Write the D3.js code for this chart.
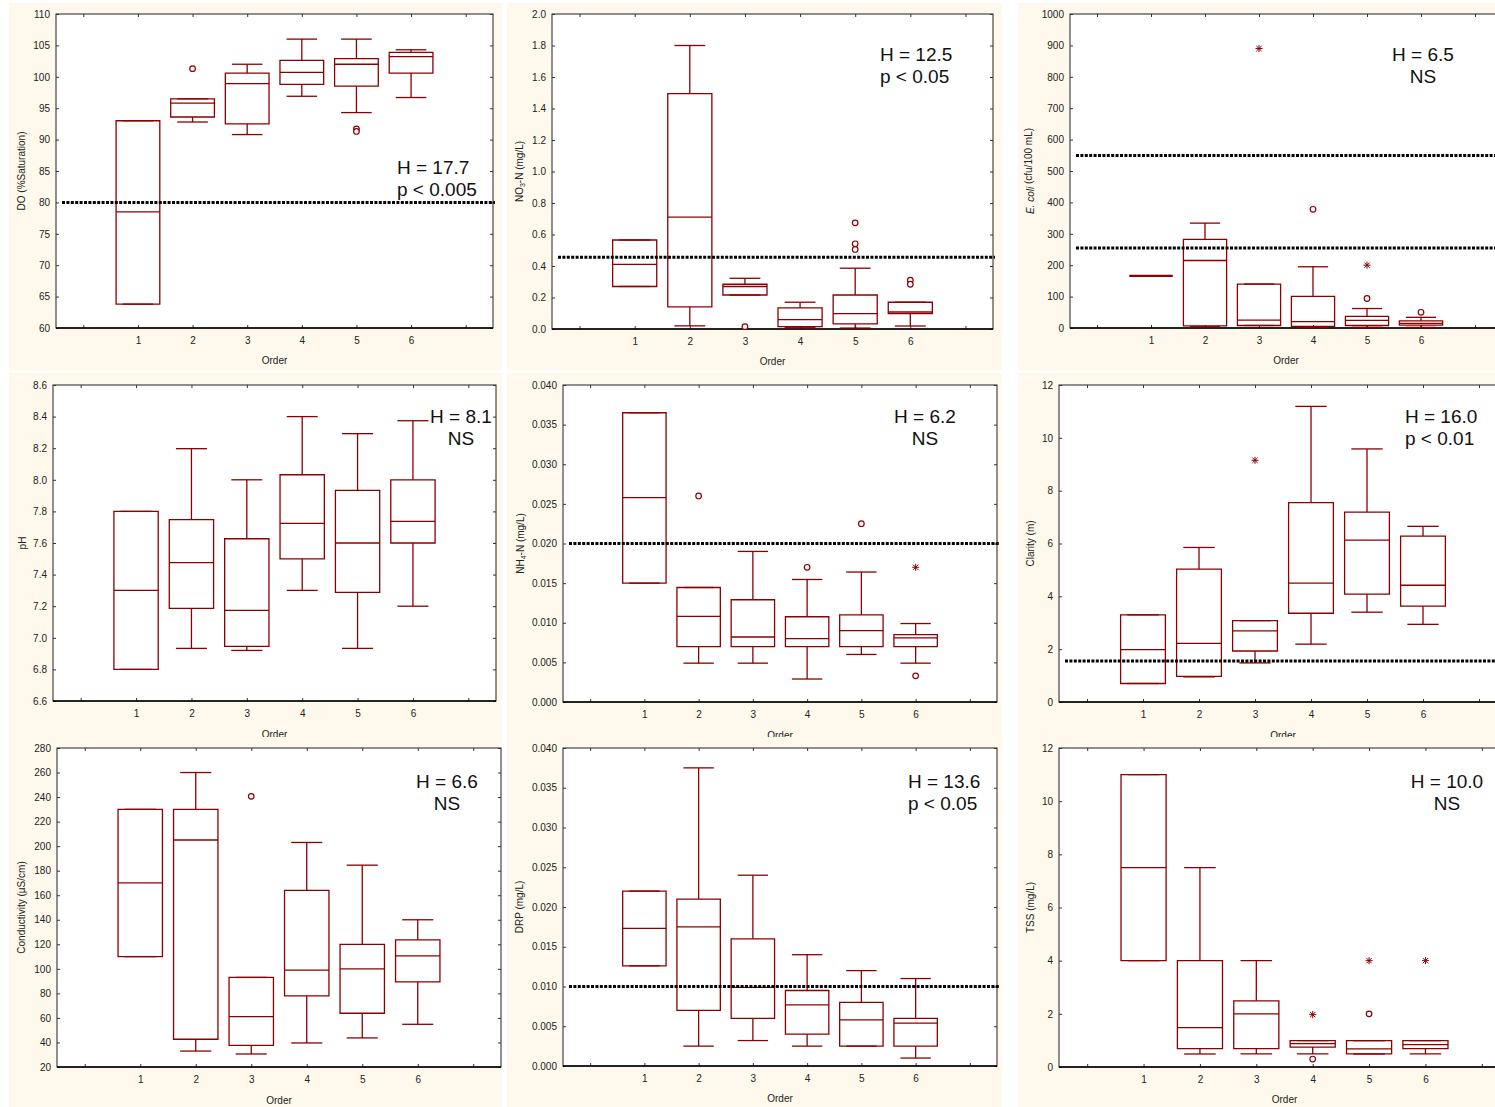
<!DOCTYPE html>
<html>
<head>
<meta charset="utf-8">
<script src="https://cdn.jsdelivr.net/npm/d3@7"></script>
<style>
  body { margin: 0; background: #fff; }
  svg { display: block; font-family: "Liberation Sans", Arial, sans-serif; }
</style>
</head>
<body>
<div id="chart"></div>
<script>
// stream order categories on every x axis
const orders = [1, 2, 3, 4, 5, 6]
const xTickPositions = [0, 1, 2, 3, 4, 5, 6, 7]

// each box: [whisker low, q1, median, q3, whisker high], one per order
// outliers (circles) and extremes (asterisks): [order, value]

const doBoxes = [[63.8, 63.8, 78.5, 93.0, 93.0], [92.8, 93.6, 95.8, 96.5, 96.5], [90.8, 92.5, 98.9, 100.6, 102.0],
  [96.9, 98.8, 100.7, 102.6, 106.0], [94.3, 98.5, 102.0, 102.9, 106.0], [96.7, 100.6, 103.2, 103.9, 104.3]]
const doOutliers = [[2, 101.3], [5, 91.7], [5, 91.3]]
const doExtremes = []
const doTicks = [60, 65, 70, 75, 80, 85, 90, 95, 100, 105, 110]
const doRef = [80]
const doStats = ["H = 17.7", "p < 0.005"]

const no3Boxes = [[0.27, 0.27, 0.41, 0.565, 0.565], [0.02, 0.14, 0.71, 1.495, 1.8], [0.216, 0.216, 0.27, 0.284, 0.322],
  [0.008, 0.015, 0.06, 0.134, 0.17], [0.006, 0.032, 0.098, 0.216, 0.386], [0.019, 0.098, 0.108, 0.17, 0.17]]
const no3Outliers = [[3, 0.015], [5, 0.674], [5, 0.541], [5, 0.505], [6, 0.31], [6, 0.284]]
const no3Extremes = []
const no3Ticks = [0, 0.2, 0.4, 0.6, 0.8, 1.0, 1.2, 1.4, 1.6, 1.8, 2.0]
const no3Ref = [0.456]
const no3Stats = ["H = 12.5", "p < 0.05"]

const ecoliBoxes = [[166, 166, 166, 166, 166], [4, 7, 215, 282, 334], [8, 8, 25, 140, 140],
  [2, 5, 20, 101, 195], [2, 8, 24, 37, 62], [2, 9, 15, 23, 34]]
const ecoliOutliers = [[4, 378], [5, 94], [6, 50]]
const ecoliExtremes = [[3, 890], [5, 200]]
const ecoliTicks = [0, 100, 200, 300, 400, 500, 600, 700, 800, 900, 1000]
const ecoliRef = [549, 255]
const ecoliStats = ["H = 6.5", "NS"]

const phBoxes = [[6.80, 6.80, 7.30, 7.80, 7.80], [6.933, 7.186, 7.476, 7.748, 8.197], [6.92, 6.946, 7.174, 7.627, 8.0],
  [7.30, 7.50, 7.724, 8.032, 8.40], [6.933, 7.288, 7.60, 7.933, 8.292], [7.20, 7.60, 7.737, 8.0, 8.374]]
const phOutliers = []
const phExtremes = []
const phTicks = [6.6, 6.8, 7.0, 7.2, 7.4, 7.6, 7.8, 8.0, 8.2, 8.4, 8.6]
const phRef = []
const phStats = ["H = 8.1", "NS"]

const nh4Boxes = [[0.015, 0.015, 0.0258, 0.0365, 0.0365], [0.0049, 0.007, 0.0108, 0.01445, 0.01445],
  [0.0049, 0.007, 0.0082, 0.0129, 0.019], [0.0029, 0.007, 0.0080, 0.01076, 0.01546],
  [0.006, 0.007, 0.009, 0.011, 0.0164], [0.0049, 0.007, 0.0081, 0.0085, 0.0099]]
const nh4Outliers = [[2, 0.026], [4, 0.017], [5, 0.0225], [6, 0.0033]]
const nh4Extremes = [[6, 0.017]]
const nh4Ticks = [0, 0.005, 0.010, 0.015, 0.020, 0.025, 0.030, 0.035, 0.040]
const nh4Ref = [0.020]
const nh4Stats = ["H = 6.2", "NS"]

const clarityBoxes = [[0.7, 0.7, 1.98, 3.3, 3.3], [0.95, 0.97, 2.22, 5.03, 5.85], [1.48, 1.93, 2.69, 3.08, 3.08],
  [2.19, 3.36, 4.5, 7.55, 11.19], [3.4, 4.08, 6.13, 7.19, 9.58], [2.94, 3.63, 4.42, 6.28, 6.65]]
const clarityOutliers = []
const clarityExtremes = [[3, 9.15]]
const clarityTicks = [0, 2, 4, 6, 8, 10, 12]
const clarityRef = [1.55]
const clarityStats = ["H = 16.0", "p < 0.01"]

const condBoxes = [[110, 110, 170, 230, 230], [33, 42.6, 205, 230, 260], [30.6, 37.7, 61, 93, 93],
  [39.6, 78, 99, 164, 203], [43.7, 63.8, 100, 120, 184.5], [54.8, 89.3, 110.6, 123.6, 140]]
const condOutliers = [[3, 240.6]]
const condExtremes = []
const condTicks = [20, 40, 60, 80, 100, 120, 140, 160, 180, 200, 220, 240, 260, 280]
const condRef = []
const condStats = ["H = 6.6", "NS"]

const drpBoxes = [[0.0126, 0.0126, 0.0173, 0.022, 0.022], [0.0025, 0.007, 0.0175, 0.021, 0.0375],
  [0.0032, 0.006, 0.0099, 0.016, 0.024], [0.0025, 0.004, 0.0077, 0.0095, 0.014],
  [0.0025, 0.0025, 0.0058, 0.008, 0.012], [0.001, 0.0025, 0.0054, 0.006, 0.011]]
const drpOutliers = []
const drpExtremes = []
const drpTicks = [0, 0.005, 0.010, 0.015, 0.020, 0.025, 0.030, 0.035, 0.040]
const drpRef = [0.010]
const drpStats = ["H = 13.6", "p < 0.05"]

const tssBoxes = [[4, 4, 7.5, 11, 11], [0.49, 0.69, 1.48, 4, 7.5], [0.49, 0.69, 2.0, 2.49, 4],
  [0.49, 0.75, 0.88, 0.99, 0.99], [0.49, 0.49, 0.68, 0.99, 0.99], [0.49, 0.69, 0.84, 0.99, 0.99]]
const tssOutliers = [[4, 0.3], [5, 2.0]]
const tssExtremes = [[4, 1.97], [5, 4], [6, 4]]
const tssTicks = [0, 2, 4, 6, 8, 10, 12]
const tssRef = []
const tssStats = ["H = 10.0", "NS"]

const W = 1495, H = 1107
const boxColor = "#8b0000"
const cream = "#fef9ec"

// layout: panel background, plot frame, label / stats placement
const cols = [[9, 502], [507, 1002], [1018, 1500]]
const rows = [[3, 370], [373, 737], [737, 1107]]

const panels = [
  { boxes: doBoxes, out: doOutliers, ext: doExtremes, ticks: doTicks, ref: doRef, stats: doStats, fmt: d3.format("d"),
    label: [["DO (%Saturation)"]], col: 0, row: 0, frame: [56, 493, 14, 328], yLabX: 21, orderY: 364, sx: 397, sy: 174, anchor: "start" },
  { boxes: no3Boxes, out: no3Outliers, ext: no3Extremes, ticks: no3Ticks, ref: no3Ref, stats: no3Stats, fmt: d3.format(".1f"),
    label: [["NO"], ["3", "sub"], ["-N (mg/L)"]], col: 1, row: 0, frame: [552, 993, 14, 329], yLabX: 519, orderY: 365, sx: 880, sy: 61, anchor: "start" },
  { boxes: ecoliBoxes, out: ecoliOutliers, ext: ecoliExtremes, ticks: ecoliTicks, ref: ecoliRef, stats: ecoliStats, fmt: d3.format("d"),
    label: [["E. coli", "it"], [" (cfu/100 mL)"]], col: 2, row: 0, frame: [1070, 1502, 14, 328], yLabX: 1030, orderY: 364, sx: 1423, sy: 61, anchor: "middle" },
  { boxes: phBoxes, out: phOutliers, ext: phExtremes, ticks: phTicks, ref: phRef, stats: phStats, fmt: d3.format(".1f"),
    label: [["pH"]], col: 0, row: 1, frame: [53, 496, 385, 701], yLabX: 22, orderY: 738, sx: 461, sy: 423, anchor: "middle" },
  { boxes: nh4Boxes, out: nh4Outliers, ext: nh4Extremes, ticks: nh4Ticks, ref: nh4Ref, stats: nh4Stats, fmt: d3.format(".3f"),
    label: [["NH"], ["4", "sub"], ["-N (mg/L)"]], col: 1, row: 1, frame: [563, 997, 385, 702], yLabX: 520, orderY: 739, sx: 925, sy: 423, anchor: "middle" },
  { boxes: clarityBoxes, out: clarityOutliers, ext: clarityExtremes, ticks: clarityTicks, ref: clarityRef, stats: clarityStats, fmt: d3.format("d"),
    label: [["Clarity (m)"]], col: 2, row: 1, frame: [1059, 1507, 385, 702], yLabX: 1030, orderY: 739, sx: 1405, sy: 423, anchor: "start" },
  { boxes: condBoxes, out: condOutliers, ext: condExtremes, ticks: condTicks, ref: condRef, stats: condStats, fmt: d3.format("d"),
    label: [["Conductivity (µS/cm)"]], col: 0, row: 2, frame: [57, 501, 748, 1067], yLabX: 21, orderY: 1104, sx: 447, sy: 788, anchor: "middle" },
  { boxes: drpBoxes, out: drpOutliers, ext: drpExtremes, ticks: drpTicks, ref: drpRef, stats: drpStats, fmt: d3.format(".3f"),
    label: [["DRP (mg/L)"]], col: 1, row: 2, frame: [563, 997, 748, 1066], yLabX: 519, orderY: 1102, sx: 908, sy: 788, anchor: "start" },
  { boxes: tssBoxes, out: tssOutliers, ext: tssExtremes, ticks: tssTicks, ref: tssRef, stats: tssStats, fmt: d3.format("d"),
    label: [["TSS (mg/L)"]], col: 2, row: 2, frame: [1059, 1510, 748, 1067], yLabX: 1030, orderY: 1103, sx: 1447, sy: 788, anchor: "middle" }
]

const svg = d3.select("#chart").append("svg")
  .attr("width", W)
  .attr("height", H)

const starPath = "M-3.5,0H3.5M0,-3.5V3.5M-2.6,-2.6L2.6,2.6M-2.6,2.6L2.6,-2.6"

panels.forEach(function(p) {
  const [l, r, t, b] = p.frame
  const g = svg.append("g")

  // cream panel background
  g.append("rect")
    .attr("x", cols[p.col][0]).attr("y", rows[p.row][0])
    .attr("width", cols[p.col][1] - cols[p.col][0])
    .attr("height", rows[p.row][1] - rows[p.row][0])
    .attr("fill", cream)

  g.append("rect")
    .attr("x", l).attr("y", t).attr("width", r - l).attr("height", b - t)
    .attr("fill", "#fff").attr("stroke", "#222").attr("stroke-width", 1)

  const x = d3.scaleLinear().domain([-0.5, 7.5]).range([l, r])
  const y = d3.scaleLinear().domain([p.ticks[0], p.ticks[p.ticks.length - 1]]).range([b, t])
  const step = x(1) - x(0)

  // axes (inward ticks on all four sides)
  const yAxis = g.append("g").attr("transform", "translate(" + l + ",0)")
    .call(d3.axisLeft(y).tickValues(p.ticks).tickFormat(p.fmt).tickSizeInner(-3).tickSizeOuter(0).tickPadding(6))
  g.append("g").attr("transform", "translate(" + r + ",0)")
    .call(d3.axisRight(y).tickValues(p.ticks).tickFormat("").tickSizeInner(-3).tickSizeOuter(0))
  const xAxis = g.append("g").attr("transform", "translate(0," + b + ")")
    .call(d3.axisBottom(x).tickValues(xTickPositions)
      .tickFormat(function(d) { return orders.indexOf(d) >= 0 ? d : "" })
      .tickSizeInner(-3).tickSizeOuter(0).tickPadding(9))
  g.append("g").attr("transform", "translate(0," + t + ")")
    .call(d3.axisTop(x).tickValues(xTickPositions).tickFormat("").tickSizeInner(-3).tickSizeOuter(0))

  g.selectAll(".domain").remove()
  g.selectAll(".tick line").attr("stroke", "#333")
  g.selectAll(".tick text").attr("font-size", 10).attr("fill", "#222")
    .attr("font-family", "'Liberation Sans', Arial, sans-serif")

  g.append("line")
    .attr("x1", l).attr("x2", r).attr("y1", b).attr("y2", b)
    .attr("stroke", "#000").attr("stroke-width", 1.6)

  // boxes
  const bx = g.selectAll(".box").data(p.boxes).enter().append("g")
    .attr("class", "box")
    .attr("stroke", boxColor).attr("fill", "none").attr("stroke-width", 1.3)

  const cx = function(d, i) { return x(orders[i]) }
  const bw = step * 0.4, cw = step * 0.28

  bx.append("line")
    .attr("x1", cx).attr("x2", cx)
    .attr("y1", function(d) { return y(d[0]) }).attr("y2", function(d) { return y(d[1]) })
  bx.append("line")
    .attr("x1", cx).attr("x2", cx)
    .attr("y1", function(d) { return y(d[3]) }).attr("y2", function(d) { return y(d[4]) })
  bx.append("line")
    .attr("x1", function(d, i) { return cx(d, i) - cw }).attr("x2", function(d, i) { return cx(d, i) + cw })
    .attr("y1", function(d) { return y(d[0]) }).attr("y2", function(d) { return y(d[0]) })
  bx.append("line")
    .attr("x1", function(d, i) { return cx(d, i) - cw }).attr("x2", function(d, i) { return cx(d, i) + cw })
    .attr("y1", function(d) { return y(d[4]) }).attr("y2", function(d) { return y(d[4]) })
  bx.append("path")
    .attr("d", function(d, i) {
      const x0 = cx(d, i) - bw, x1 = cx(d, i) + bw
      return "M" + x0 + "," + y(d[1]) + "H" + x1 + "V" + y(d[3]) + "H" + x0 + "Z"
    })
  bx.append("line")
    .attr("x1", function(d, i) { return cx(d, i) - bw }).attr("x2", function(d, i) { return cx(d, i) + bw })
    .attr("y1", function(d) { return y(d[2]) }).attr("y2", function(d) { return y(d[2]) })
    .attr("stroke-width", function(d) { return d[1] === d[3] ? 2.4 : 1.3 })

  // outliers and extremes
  g.selectAll(".outlier").data(p.out).enter().append("circle")
    .attr("cx", function(d) { return x(d[0]) }).attr("cy", function(d) { return y(d[1]) })
    .attr("r", 2.8)
    .attr("fill", "#fff").attr("stroke", boxColor).attr("stroke-width", 1.2)

  g.selectAll(".extreme").data(p.ext).enter().append("path")
    .attr("transform", function(d) { return "translate(" + x(d[0]) + "," + y(d[1]) + ")" })
    .attr("d", starPath)
    .attr("stroke", boxColor).attr("stroke-width", 1)

  // guideline values
  g.selectAll(".ref").data(p.ref).enter().append("line")
    .attr("x1", l + 6).attr("x2", r + 2)
    .attr("y1", function(d) { return y(d) }).attr("y2", function(d) { return y(d) })
    .attr("stroke", "#000").attr("stroke-width", 3).attr("stroke-dasharray", "3,1.4")

  // stats text
  g.selectAll(".stat").data(p.stats).enter().append("text")
    .attr("x", p.sx).attr("y", function(d, i) { return p.sy + i * 22 })
    .attr("text-anchor", p.anchor)
    .attr("font-size", 19).attr("fill", "#111")
    .text(function(d) { return d })

  // axis titles
  g.append("text")
    .attr("x", (l + Math.min(r, W)) / 2 + (r > W ? (r - W) / 2 : 0)).attr("y", p.orderY)
    .attr("text-anchor", "middle").attr("font-size", 10).attr("fill", "#222")
    .text("Order")

  const yl = g.append("text")
    .attr("transform", "translate(" + p.yLabX + "," + (t + b) / 2 + ") rotate(-90)")
    .attr("text-anchor", "middle").attr("dy", "0.35em")
    .attr("font-size", 10).attr("fill", "#222")
  p.label.forEach(function(part) {
    const ts = yl.append("tspan").text(part[0])
    if (part[1] === "sub") ts.attr("font-size", 7).attr("dy", 2)
    else if (part[1] === "it") ts.attr("font-style", "italic")
    else if (yl.selectAll("tspan").size() > 1) ts.attr("dy", -2)
  })
})
</script>
</body>
</html>
